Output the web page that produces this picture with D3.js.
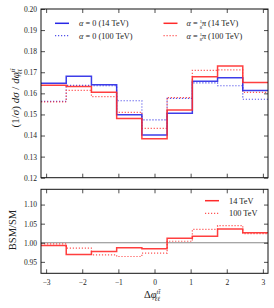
<!DOCTYPE html>
<html>
<head>
<meta charset="utf-8">
<script src="https://cdn.jsdelivr.net/npm/d3@7"></script>
<style>
  body { margin: 0; background: #fff; }
  svg { display: block; font-family: "Liberation Serif", serif; }
  .tick text { font-size: 7.5px; fill: #222; font-family: "Liberation Serif", serif; }
  .domain { stroke: none; }
  .tick line { stroke: #222; stroke-width: 0.8; }
</style>
</head>
<body>
<svg id="canvas"></svg>
<script>
// bin layout in delta phi
let nBins = 9
let binEdges = d3.range(nBins + 1).map(i => -Math.PI + i * 2 * Math.PI / nBins)

// normalised distributions (upper panel)
let sm14 = [0.1648, 0.1681, 0.1641, 0.1499, 0.1403, 0.1506, 0.1657, 0.1674, 0.1613]
let sm100 = [0.1562, 0.1638, 0.1636, 0.1565, 0.1474, 0.1576, 0.1650, 0.1636, 0.1572]
let bsm14 = [0.1638, 0.1632, 0.1605, 0.1481, 0.1385, 0.1521, 0.1679, 0.1730, 0.1652]
let bsm100 = [0.1560, 0.1614, 0.1584, 0.1510, 0.1434, 0.1580, 0.1709, 0.1711, 0.1605]

// ratios (lower panel)
let ratio14 = [0.993, 0.969, 0.977, 0.987, 0.984, 1.012, 1.017, 1.036, 1.026]
let ratio100 = [0.997, 0.986, 0.968, 0.964, 0.973, 1.004, 1.035, 1.045, 1.024]

let xTicks = [-3, -2, -1, 0, 1, 2, 3]
let topTicks = [0.12, 0.13, 0.14, 0.15, 0.16, 0.17, 0.18, 0.19, 0.20]
let botTicks = [0.95, 1.00, 1.05, 1.10]

const width = 274
const height = 308
const left = 41, right = 268
const topY0 = 9, topY1 = 177.7
const botY0 = 189.3, botY1 = 273.3

const blue = '#2828e6'
const red = '#ff2a2a'

let svg = d3.select('#canvas').attr('width', width).attr('height', height)

let xScale = d3.scaleLinear().domain([-Math.PI, Math.PI]).range([left, right])
let yTop = d3.scaleLinear().domain([0.12, 0.20]).range([topY1, topY0])
let yBot = d3.scaleLinear().domain([0.92, 1.14]).range([botY1, botY0])

let stepPath = (vals, yScale) => {
    let pts = vals.map((v, i) => [binEdges[i], v])
    pts.push([binEdges[nBins], vals[nBins - 1]])
    return d3.line()
        .x(d => xScale(d[0]))
        .y(d => yScale(d[1]))
        .curve(d3.curveStepAfter)(pts)
}

let drawStep = (g, vals, yScale, color, dotted) => {
    let p = g.append('path')
        .attr('d', stepPath(vals, yScale))
        .attr('fill', 'none')
        .attr('stroke', color)
    if (dotted) {
        p.attr('stroke-width', 1.2).attr('stroke-dasharray', '1.2,1.8').attr('opacity', 0.8)
    } else {
        p.attr('stroke-width', 1.5).attr('opacity', 0.9)
    }
}

let drawFrame = (y0, y1, yScale, ticks, fmt) => {
    let g = svg.append('g')
    g.append('g')
        .attr('transform', 'translate(' + left + ',0)')
        .call(d3.axisLeft(yScale).tickValues(ticks).tickFormat(fmt).tickSizeInner(-4).tickSizeOuter(0).tickPadding(4))
    g.append('g')
        .attr('transform', 'translate(' + right + ',0)')
        .call(d3.axisRight(yScale).tickValues(ticks).tickFormat('').tickSizeInner(-4).tickSizeOuter(0))
    g.append('g')
        .attr('transform', 'translate(0,' + y0 + ')')
        .call(d3.axisTop(xScale).tickValues(xTicks).tickFormat('').tickSizeInner(-4).tickSizeOuter(0))
    g.append('g')
        .attr('transform', 'translate(0,' + y1 + ')')
        .call(d3.axisBottom(xScale).tickValues(xTicks).tickFormat('').tickSizeInner(-4).tickSizeOuter(0))
    g.append('rect')
        .attr('x', left).attr('y', y0)
        .attr('width', right - left).attr('height', y1 - y0)
        .attr('fill', 'none').attr('stroke', '#111').attr('stroke-width', 1)
}

// upper panel
let gTop = svg.append('g')
drawStep(gTop, sm100, yTop, blue, true)
drawStep(gTop, bsm100, yTop, red, true)
drawStep(gTop, sm14, yTop, blue, false)
drawStep(gTop, bsm14, yTop, red, false)
drawFrame(topY0, topY1, yTop, topTicks, d3.format('.2f'))

// lower panel
let gBot = svg.append('g')
gBot.append('line')
    .attr('x1', left).attr('x2', right)
    .attr('y1', yBot(1)).attr('y2', yBot(1))
    .attr('stroke', '#888').attr('stroke-width', 1)
drawStep(gBot, ratio100, yBot, red, true)
drawStep(gBot, ratio14, yBot, red, false)
drawFrame(botY0, botY1, yBot, botTicks, d3.format('.2f'))

svg.append('g')
    .attr('transform', 'translate(0,' + botY1 + ')')
    .call(d3.axisBottom(xScale).tickValues(xTicks).tickFormat(d => d < 0 ? '\u2212' + (-d) : d).tickSize(0).tickPadding(6))

// legends
let legendItem = (x, y, color, dotted) => {
    let l = svg.append('line')
        .attr('x1', x).attr('x2', x + 14)
        .attr('y1', y).attr('y2', y)
        .attr('stroke', color)
    if (dotted) l.attr('stroke-width', 1.2).attr('stroke-dasharray', '1.2,1.8').attr('opacity', 0.8)
    else l.attr('stroke-width', 1.5)
}
let txt = (x, y, size) => svg.append('text')
    .attr('x', x).attr('y', y)
    .attr('font-size', size)
    .attr('fill', '#222')

legendItem(55, 23.3, blue, false)
legendItem(55, 35.7, blue, true)
legendItem(163.5, 23.3, red, false)
legendItem(163.5, 35.7, red, true)

let alphaZero = (y, label) => {
    let t = txt(79, y, 8.3)
    t.append('tspan').attr('font-style', 'italic').text('\u03b1')
    t.append('tspan').text(' = 0 (' + label + ')')
}
alphaZero(26, '14 TeV')
alphaZero(38.5, '100 TeV')

let alphaPi = (y, label) => {
    let t = txt(186.5, y, 8.3)
    t.append('tspan').attr('font-style', 'italic').text('\u03b1')
    t.append('tspan').text(' = ')
    t.append('tspan').attr('font-size', 4.5).attr('dy', -3).text('1')
    t.append('tspan').attr('font-size', 4.5).attr('dx', -2.3).attr('dy', 5.5).text('8')
    t.append('tspan').attr('font-style', 'italic').attr('dy', -2.5).text('\u03c0')
    t.append('tspan').text(' (' + label + ')')
    svg.append('line')
        .attr('x1', 201.8).attr('x2', 204.8)
        .attr('y1', y - 2.9).attr('y2', y - 2.9)
        .attr('stroke', '#222').attr('stroke-width', 0.4)
}
alphaPi(26, '14 TeV')
alphaPi(38.5, '100 TeV')

legendItem(205, 200.7, red, false)
legendItem(205, 213.3, red, true)
txt(229, 203.5, 8.3).text('14 TeV')
txt(229, 216.2, 8.3).text('100 TeV')

// axis titles
let yl = svg.append('text')
    .attr('transform', 'translate(19,' + 98 + ') rotate(-90)')
    .attr('text-anchor', 'middle')
    .attr('font-size', 11)
    .attr('fill', '#222')
yl.append('tspan').text('(1/')
yl.append('tspan').attr('font-style', 'italic').text('\u03c3')
yl.append('tspan').text(') ')
yl.append('tspan').attr('font-style', 'italic').text('d\u03c3')
yl.append('tspan').text(' / ')
yl.append('tspan').attr('font-style', 'italic').text('d\u03c6')
yl.append('tspan').attr('font-style', 'italic').attr('font-size', 6.5).attr('dy', -4.5).text('tt\u0304')
yl.append('tspan').attr('font-style', 'italic').attr('font-size', 6.5).attr('dx', -5.5).attr('dy', 7.5).text('\u2113\u2113')

svg.append('text')
    .attr('transform', 'translate(16,' + 230 + ') rotate(-90)')
    .attr('text-anchor', 'middle')
    .attr('font-size', 10.5)
    .attr('fill', '#222')
    .text('BSM/SM')

let xl = svg.append('text')
    .attr('x', 144).attr('y', 298)
    .attr('font-size', 10.5)
    .attr('fill', '#222')
xl.append('tspan').text('\u0394')
xl.append('tspan').attr('font-style', 'italic').text('\u03c6')
xl.append('tspan').attr('font-style', 'italic').attr('font-size', 6.5).attr('dy', -4.5).text('tt\u0304')
xl.append('tspan').attr('font-style', 'italic').attr('font-size', 6.5).attr('dx', -5.5).attr('dy', 7.5).text('\u2113\u2113')
</script>
</body>
</html>
